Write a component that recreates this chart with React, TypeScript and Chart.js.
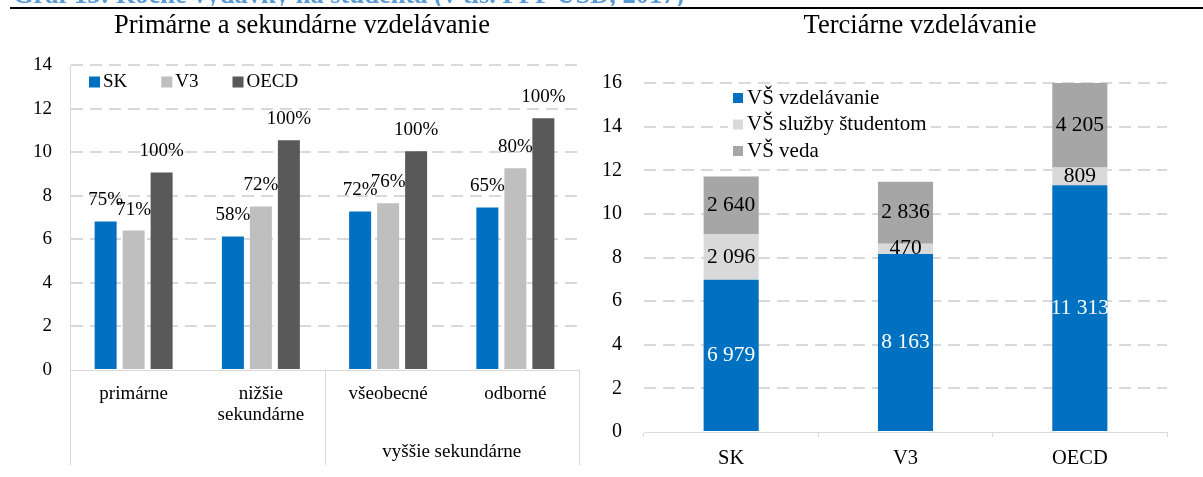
import { useEffect, useRef } from "react";
import { Chart, registerables } from "chart.js";

Chart.register(...registerables);

const FONT = "'Liberation Serif', 'Times New Roman', Times, serif";
const GRID = "#D9D9D9";

// ---------- page texts
const headerText = "Graf 13: Ročné výdavky na študenta (v tis. PPP USD, 2017)";
const primTitle = "Primárne a sekundárne vzdelávanie";
const terTitle = "Terciárne vzdelávanie";

// ---------- left chart (primárne a sekundárne)
const primCategories: string[][] = [["primárne"], ["nižšie", "sekundárne"], ["všeobecné"], ["odborné"]];
const primGroupLabel = "vyššie sekundárne";
const primGroupStart = 2;
const primSeriesLabels = ["SK", "V3", "OECD"];
const primSK = [6.82, 6.13, 7.28, 7.46];
const primV3 = [6.4, 7.51, 7.65, 9.26];
const primOECD = [9.07, 10.55, 10.04, 11.56];
const primPctSK = ["75%", "58%", "72%", "65%"];
const primPctV3 = ["71%", "72%", "76%", "80%"];
const primPctOECD = ["100%", "100%", "100%", "100%"];
const primYMax = 14;
const primYStep = 2;
const primColors = ["#0070C0", "#BFBFBF", "#595959"];

// ---------- right chart (terciárne)
const terCategories = ["SK", "V3", "OECD"];
const terSeriesLabels = ["VŠ vzdelávanie", "VŠ služby študentom", "VŠ veda"];
const terVzdelavanie = [6979, 8163, 11313];
const terSluzby = [2096, 470, 809];
const terVeda = [2640, 2836, 4205];
const terYMax = 16;
const terYStep = 2;
const terColors = ["#0070C0", "#D9D9D9", "#A6A6A6"];
const terLabelColors = ["#FFFFFF", "#000000", "#000000"];

const fmtThousands = (n: number) => String(n).replace(/\B(?=(\d{3})+(?!\d))/g, " ");
const hideZero = (ctx: any) => (ctx.tick && ctx.tick.value === 0 ? "rgba(0,0,0,0)" : GRID);

function leftConfig(): any {
  const pct = [primPctSK, primPctV3, primPctOECD];
  const plugin = {
    id: "primExtras",
    afterDatasetsDraw(chart: any) {
      const ctx = chart.ctx;
      ctx.save();
      ctx.font = `19px ${FONT}`;
      ctx.fillStyle = "#000";
      ctx.textAlign = "center";
      ctx.textBaseline = "middle";
      chart.data.datasets.forEach((_ds: any, di: number) => {
        chart.getDatasetMeta(di).data.forEach((bar: any, i: number) => {
          ctx.fillText(pct[di][i], bar.x, bar.y - 21);
        });
      });
      ctx.restore();
    },
    afterDraw(chart: any) {
      const ctx = chart.ctx;
      const xs = chart.scales.x;
      const area = chart.chartArea;
      const bottom = 465;
      ctx.save();
      ctx.strokeStyle = GRID;
      ctx.lineWidth = 1;
      const seps = [xs.left, xs.getPixelForValue(primGroupStart - 0.5), xs.right];
      seps.forEach((x: number) => {
        const px = Math.round(x) + 0.5;
        ctx.beginPath();
        ctx.moveTo(px, area.bottom);
        ctx.lineTo(px, bottom);
        ctx.stroke();
      });
      ctx.font = `19px ${FONT}`;
      ctx.fillStyle = "#000";
      ctx.textAlign = "center";
      ctx.textBaseline = "alphabetic";
      ctx.fillText(primGroupLabel, (seps[1] + seps[2]) / 2, 457);
      // legend
      let x = area.left + 19;
      const cy = 82;
      ctx.textAlign = "left";
      ctx.textBaseline = "middle";
      chart.data.datasets.forEach((ds: any) => {
        ctx.fillStyle = ds.backgroundColor;
        ctx.fillRect(x, cy - 5.5, 11, 11);
        ctx.fillStyle = "#000";
        ctx.fillText(ds.label, x + 14, cy);
        x += 14 + ctx.measureText(ds.label).width + 34;
      });
      ctx.restore();
    },
  };
  return {
    type: "bar",
    data: {
      labels: primCategories,
      datasets: [primSK, primV3, primOECD].map((d, i) => ({
        label: primSeriesLabels[i],
        data: d,
        backgroundColor: primColors[i],
        categoryPercentage: 0.66,
        barPercentage: 0.786,
      })),
    },
    options: {
      responsive: false,
      animation: false,
      layout: { padding: { left: 0, right: 11, top: 65, bottom: 0 } },
      plugins: { legend: { display: false }, tooltip: { enabled: false } },
      scales: {
        x: {
          grid: { display: false, drawTicks: false },
          border: { display: true, color: GRID, width: 1 },
          ticks: {
            color: "#000",
            font: { family: FONT, size: 19, lineHeight: 1.08 },
            padding: 14,
            maxRotation: 0,
            autoSkip: false,
          },
          afterFit: (s: any) => {
            s.height = 107;
          },
        },
        y: {
          min: 0,
          max: primYMax,
          ticks: { stepSize: primYStep, color: "#000", font: { family: FONT, size: 19 }, padding: 18 },
          grid: { color: hideZero, lineWidth: 2, drawTicks: false },
          border: { display: true, color: GRID, width: 1, dash: [12, 7] },
          afterFit: (s: any) => {
            s.width = 70;
          },
        },
      },
    },
    plugins: [plugin],
  };
}

function rightConfig(): any {
  const raw = [terVzdelavanie, terSluzby, terVeda];
  const plugin = {
    id: "terExtras",
    afterDatasetsDraw(chart: any) {
      const ctx = chart.ctx;
      const area = chart.chartArea;
      ctx.save();
      ctx.font = `21.5px ${FONT}`;
      ctx.textAlign = "center";
      ctx.textBaseline = "middle";
      chart.data.datasets.forEach((_ds: any, di: number) => {
        chart.getDatasetMeta(di).data.forEach((bar: any, i: number) => {
          const top = Math.max(bar.y, area.top);
          const cy = (top + bar.base) / 2;
          ctx.fillStyle = terLabelColors[di];
          ctx.fillText(fmtThousands(raw[di][i]), bar.x, cy);
        });
      });
      ctx.restore();
    },
    afterDraw(chart: any) {
      const ctx = chart.ctx;
      ctx.save();
      ctx.font = `21px ${FONT}`;
      const sqX = 143;
      const textX = 157;
      const rows = [98, 124.5, 151];
      const maxW = Math.max(...chart.data.datasets.map((d: any) => ctx.measureText(d.label).width));
      ctx.fillStyle = "#fff";
      ctx.fillRect(sqX - 5, rows[0] - 10, textX - sqX + 5 + maxW + 4, rows[2] - rows[0] + 22);
      ctx.textAlign = "left";
      ctx.textBaseline = "middle";
      chart.data.datasets.forEach((ds: any, i: number) => {
        ctx.fillStyle = ds.backgroundColor;
        ctx.fillRect(sqX, rows[i] - 5, 10, 10);
        ctx.fillStyle = "#000";
        ctx.fillText(ds.label, textX, rows[i]);
      });
      ctx.restore();
    },
  };
  return {
    type: "bar",
    data: {
      labels: terCategories,
      datasets: raw.map((d, i) => ({
        label: terSeriesLabels[i],
        data: d.map((v) => v / 1000),
        backgroundColor: terColors[i],
        categoryPercentage: 1,
        barPercentage: 0.316,
        clip: 0,
      })),
    },
    options: {
      responsive: false,
      animation: false,
      layout: { padding: { left: 0, right: 36, top: 83, bottom: 0 } },
      plugins: { legend: { display: false }, tooltip: { enabled: false } },
      scales: {
        x: {
          stacked: true,
          grid: { display: true, drawOnChartArea: false, drawTicks: true, tickLength: 5, color: GRID, offset: true },
          border: { display: true, color: GRID, width: 1 },
          ticks: { color: "#000", font: { family: FONT, size: 20.5 }, padding: 9, maxRotation: 0 },
          afterFit: (s: any) => {
            s.height = 45;
          },
        },
        y: {
          stacked: true,
          min: 0,
          max: terYMax,
          ticks: { stepSize: terYStep, color: "#000", font: { family: FONT, size: 20 }, padding: 22 },
          grid: { color: hideZero, lineWidth: 2, drawTicks: false },
          border: { display: false, dash: [12, 7] },
          afterFit: (s: any) => {
            s.width = 54;
          },
        },
      },
    },
    plugins: [plugin],
  };
}

export default function App() {
  const leftRef = useRef<HTMLCanvasElement>(null);
  const rightRef = useRef<HTMLCanvasElement>(null);

  useEffect(() => {
    const l = new Chart(leftRef.current as HTMLCanvasElement, leftConfig());
    const r = new Chart(rightRef.current as HTMLCanvasElement, rightConfig());
    return () => {
      l.destroy();
      r.destroy();
    };
  }, []);

  const titleStyle = (cx: number): any => ({
    position: "absolute",
    left: cx - 300,
    width: 600,
    top: 33 - 22.2,
    textAlign: "center",
    font: `26.5px/26.5px ${FONT}`,
    color: "#000",
    whiteSpace: "nowrap",
  });

  return (
    <div style={{ position: "absolute", left: 0, top: 0, width: 1203, height: 477, overflow: "hidden", background: "#fff" }}>
      <canvas ref={leftRef} width={590} height={477} style={{ position: "absolute", left: 0, top: 0 }} />
      <canvas ref={rightRef} width={613} height={477} style={{ position: "absolute", left: 590, top: 0 }} />
      <div style={{ position: "absolute", left: 0, top: 0, width: 1203, height: 6, overflow: "hidden" }}>
        <div
          style={{
            position: "absolute",
            left: 13,
            top: -19.2,
            whiteSpace: "nowrap",
            font: `bold 26.5px/26.5px ${FONT}`,
            color: "#5B9BD5",
          }}
        >
          {headerText}
        </div>
      </div>
      <div style={{ position: "absolute", left: 10, top: 7, width: 1193, height: 2, background: "#000" }} />
      <div style={titleStyle(302)}>{primTitle}</div>
      <div style={titleStyle(920)}>{terTitle}</div>
    </div>
  );
}
